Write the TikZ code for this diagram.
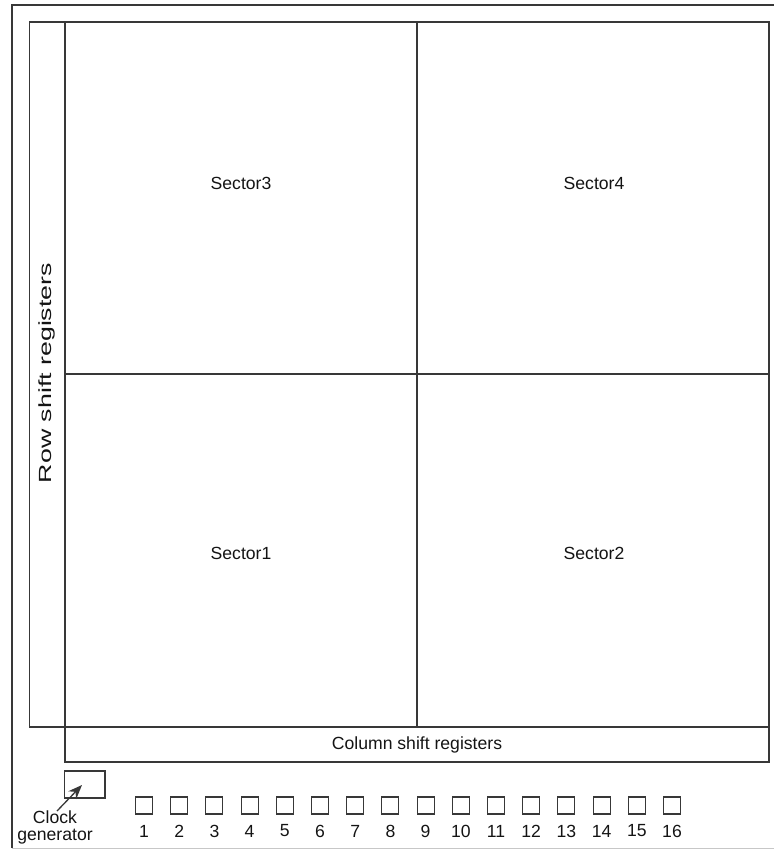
\documentclass[tikz,border=0pt]{standalone}
\usepackage{fontspec}
\setmainfont{Liberation Sans}
\usepackage{graphicx}
\usetikzlibrary{arrows.meta}

\begin{document}
\begin{tikzpicture}[x=1pt,y=-1pt,line join=miter,
  ink/.style={draw=black!78,line width=1.3pt},
  faint/.style={draw=black!22,line width=1pt},
  lbl/.style={font=\fontsize{17.6}{17}\selectfont,text=black!92,inner sep=0pt},
  pad/.style={draw=black!78,line width=1.1pt,minimum size=17pt,inner sep=0pt}]
\useasboundingbox (0,0) rectangle (774,850);
% Outer frame.
\draw[ink,line width=2pt](12,848)--(12,5)--(774,5);
\draw[faint](12,848)--(774,848);

% Row shift registers.
\draw[ink](29.5,22) rectangle (65,727);
\node[lbl,rotate=90] (rowsr) at (47,373) {\scalebox{1.52}[1]{Row shift registers}};

% Four sectors.
\draw[ink](65,22) rectangle (769,727);
\draw[ink](417,22)--(417,727) (65,374)--(769,374);
\node[lbl] (sec3) at (241,183) {Sector3};
\node[lbl] (sec4) at (594,183) {Sector4};
\node[lbl] (sec1) at (241,553) {Sector1};
\node[lbl] (sec2) at (594,553) {Sector2};

% Column shift registers.
\draw[ink](65,727) rectangle (769,762);
\node[lbl] (colsr) at (417,745) {Column shift registers};

% Clock generator.
\node[ink,minimum width=40.5pt,minimum height=27pt,inner sep=0pt] (clk) at (84.75,784.5) {};
\node[lbl,align=center,anchor=north] (clklbl) at (55,811) {Clock\\generator};
\coordinate (clkin) at (82,785);
\draw[ink,-{Stealth[length=14pt,width=11pt]}] ([xshift=2pt]clklbl.north) -- (clkin);

% Pads.
\foreach \i in {1,...,16}{
  \node[pad] (pad\i) at ({144+35.2*(\i-1)},805.5) {};
  \node[lbl] (num\i) at ({144+35.2*(\i-1)},831) {\i};
}
\end{tikzpicture}
\end{document}
